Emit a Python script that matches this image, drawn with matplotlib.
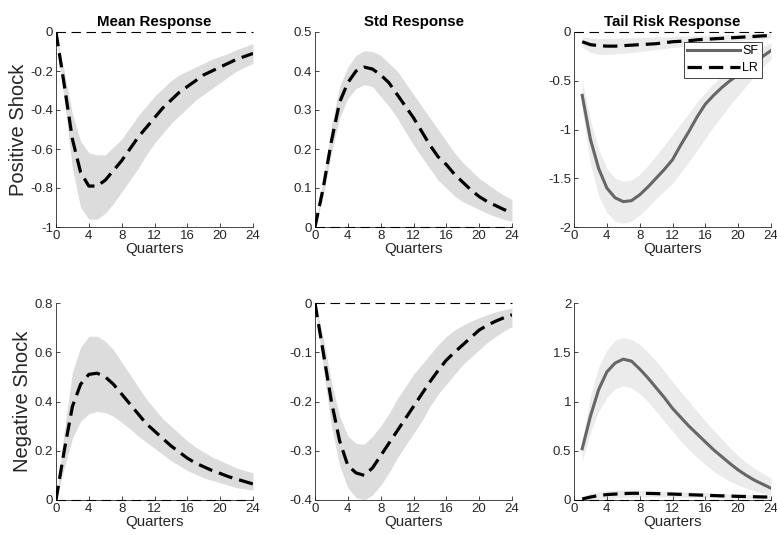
import numpy as np
import matplotlib
matplotlib.use("Agg")
import matplotlib.pyplot as plt

plt.rcParams['font.family'] = ['Liberation Sans', 'DejaVu Sans']

q0 = list(range(0, 25))
q1 = list(range(1, 25))

# Positive shock, mean response
pos_mean = [0, -0.27, -0.55, -0.72, -0.79, -0.79, -0.76, -0.71, -0.66, -0.6, -0.54, -0.49, -0.44,
            -0.39, -0.35, -0.31, -0.28, -0.25, -0.22, -0.2, -0.18, -0.16, -0.14, -0.125, -0.11]
pos_mean_hi = [0, -0.2, -0.42, -0.56, -0.62, -0.63, -0.63, -0.59, -0.55, -0.49, -0.43, -0.38, -0.33,
               -0.29, -0.25, -0.22, -0.2, -0.18, -0.16, -0.14, -0.125, -0.11, -0.09, -0.075, -0.06]
pos_mean_lo = [0, -0.35, -0.7, -0.9, -0.96, -0.96, -0.93, -0.88, -0.82, -0.76, -0.7, -0.63, -0.57,
               -0.52, -0.47, -0.43, -0.39, -0.35, -0.32, -0.29, -0.26, -0.23, -0.2, -0.18, -0.16]

# Positive shock, std response
pos_std = [0, 0.1, 0.22, 0.32, 0.37, 0.40, 0.41, 0.405, 0.39, 0.37, 0.34, 0.31, 0.28,
           0.245, 0.21, 0.18, 0.16, 0.135, 0.115, 0.095, 0.078, 0.065, 0.055, 0.045, 0.036]
pos_std_hi = [0, 0.12, 0.26, 0.36, 0.41, 0.44, 0.452, 0.45, 0.44, 0.42, 0.40, 0.37, 0.34,
              0.31, 0.28, 0.25, 0.22, 0.19, 0.165, 0.145, 0.125, 0.11, 0.095, 0.082, 0.07]
pos_std_lo = [0, 0.08, 0.19, 0.28, 0.33, 0.355, 0.365, 0.36, 0.335, 0.31, 0.28, 0.245, 0.21,
              0.18, 0.15, 0.12, 0.1, 0.08, 0.065, 0.055, 0.045, 0.035, 0.027, 0.02, 0.015]

# Positive shock, tail risk (SF and LR), quarters 1..24
pos_sf = [-0.65, -1.1, -1.4, -1.6, -1.7, -1.74, -1.73, -1.67, -1.59, -1.5, -1.41, -1.31,
          -1.16, -1.02, -0.87, -0.74, -0.65, -0.57, -0.5, -0.44, -0.37, -0.31, -0.25, -0.19]
pos_sf_hi = [-0.5, -0.9, -1.2, -1.4, -1.5, -1.53, -1.52, -1.46, -1.37, -1.27, -1.16, -1.05,
             -0.94, -0.83, -0.72, -0.62, -0.53, -0.45, -0.38, -0.3, -0.25, -0.2, -0.15, -0.11]
pos_sf_lo = [-0.8, -1.35, -1.68, -1.85, -1.94, -1.96, -1.94, -1.88, -1.8, -1.71, -1.63, -1.55,
             -1.44, -1.33, -1.21, -1.09, -0.97, -0.86, -0.75, -0.65, -0.55, -0.45, -0.36, -0.28]
pos_lr = [-0.1, -0.13, -0.14, -0.145, -0.145, -0.14, -0.135, -0.13, -0.125, -0.12, -0.11, -0.1,
          -0.095, -0.09, -0.08, -0.075, -0.07, -0.065, -0.06, -0.055, -0.05, -0.045, -0.04, -0.035]
pos_lr_hi = [-0.05, -0.06, -0.065, -0.065, -0.065, -0.06, -0.06, -0.055, -0.055, -0.05, -0.05, -0.045,
             -0.04, -0.04, -0.035, -0.035, -0.03, -0.03, -0.025, -0.025, -0.02, -0.02, -0.015, -0.015]
pos_lr_lo = [-0.15, -0.21, -0.23, -0.23, -0.225, -0.22, -0.21, -0.2, -0.19, -0.18, -0.17, -0.16,
             -0.15, -0.14, -0.13, -0.12, -0.11, -0.1, -0.095, -0.09, -0.08, -0.075, -0.07, -0.065]

# Negative shock, mean response
neg_mean = [0, 0.2, 0.38, 0.47, 0.51, 0.515, 0.5, 0.47, 0.43, 0.39, 0.35, 0.31, 0.28,
            0.25, 0.22, 0.195, 0.17, 0.15, 0.135, 0.12, 0.108, 0.095, 0.085, 0.075, 0.065]
neg_mean_hi = [0, 0.28, 0.52, 0.62, 0.665, 0.665, 0.645, 0.61, 0.56, 0.51, 0.46, 0.41, 0.37,
               0.33, 0.3, 0.27, 0.24, 0.215, 0.195, 0.175, 0.16, 0.145, 0.13, 0.12, 0.11]
neg_mean_lo = [0, 0.13, 0.25, 0.32, 0.35, 0.36, 0.355, 0.34, 0.315, 0.29, 0.26, 0.235, 0.21,
               0.185, 0.16, 0.14, 0.12, 0.105, 0.09, 0.08, 0.07, 0.06, 0.05, 0.045, 0.04]

# Negative shock, std response
neg_std = [0, -0.1, -0.2, -0.28, -0.33, -0.345, -0.35, -0.335, -0.31, -0.285, -0.26, -0.235, -0.21,
           -0.185, -0.16, -0.137, -0.116, -0.1, -0.085, -0.07, -0.055, -0.045, -0.037, -0.03, -0.024]
neg_std_hi = [0, -0.07, -0.16, -0.23, -0.27, -0.285, -0.287, -0.27, -0.25, -0.225, -0.195, -0.17, -0.145,
              -0.125, -0.105, -0.085, -0.068, -0.055, -0.045, -0.037, -0.03, -0.024, -0.018, -0.014, -0.01]
neg_std_lo = [0, -0.13, -0.25, -0.33, -0.375, -0.395, -0.4, -0.39, -0.37, -0.345, -0.315, -0.29, -0.265,
              -0.24, -0.21, -0.185, -0.165, -0.145, -0.125, -0.11, -0.095, -0.08, -0.068, -0.057, -0.048]

# Negative shock, tail risk
neg_sf = [0.52, 0.85, 1.12, 1.3, 1.39, 1.43, 1.41, 1.33, 1.24, 1.14, 1.04, 0.93,
          0.84, 0.75, 0.67, 0.59, 0.51, 0.44, 0.37, 0.305, 0.25, 0.2, 0.16, 0.12]
neg_sf_hi = [0.6, 1.05, 1.35, 1.52, 1.62, 1.65, 1.63, 1.58, 1.5, 1.41, 1.31, 1.2,
             1.1, 1.0, 0.9, 0.8, 0.71, 0.62, 0.53, 0.45, 0.38, 0.32, 0.27, 0.22]
neg_sf_lo = [0.4, 0.68, 0.9, 1.04, 1.13, 1.16, 1.14, 1.08, 1.0, 0.9, 0.8, 0.7,
             0.6, 0.51, 0.43, 0.36, 0.29, 0.24, 0.19, 0.15, 0.12, 0.09, 0.07, 0.05]
neg_lr = [0.01, 0.03, 0.045, 0.055, 0.06, 0.065, 0.068, 0.068, 0.067, 0.065, 0.062, 0.06,
          0.057, 0.054, 0.051, 0.048, 0.045, 0.042, 0.04, 0.037, 0.035, 0.033, 0.031, 0.03]
neg_lr_hi = [0.04, 0.07, 0.085, 0.095, 0.1, 0.1, 0.1, 0.098, 0.096, 0.093, 0.09, 0.087,
             0.083, 0.08, 0.077, 0.073, 0.07, 0.067, 0.064, 0.061, 0.058, 0.055, 0.052, 0.05]
neg_lr_lo = [0.0, 0.005, 0.01, 0.015, 0.02, 0.025, 0.028, 0.03, 0.03, 0.03, 0.03, 0.029,
             0.028, 0.027, 0.025, 0.024, 0.022, 0.02, 0.019, 0.017, 0.016, 0.014, 0.012, 0.01]

titles = ["Mean Response", "Std Response", "Tail Risk Response"]
row_labels = ["Positive Shock", "Negative Shock"]
xticks = [0, 4, 8, 12, 16, 20, 24]

BAND = '#dcdcdc'
BAND_T = '#ebebeb'
SFC = '#666666'
AXC = '#262626'

fig = plt.figure(figsize=(7.77, 5.35), dpi=100)
W, H = 777, 535
lefts = [56, 315, 574]
tops = [32, 303]
bots = [227, 500]
axw = 197
axes = []
for r in range(2):
    row = []
    for c in range(3):
        ax = fig.add_axes([lefts[c] / W, 1 - bots[r] / H, axw / W, (bots[r] - tops[r]) / H])
        row.append(ax)
    axes.append(row)

def style(ax, ylim, yticks, yticklabels):
    ax.set_xlim(0, 24)
    ax.set_ylim(*ylim)
    ax.set_xticks(xticks)
    ax.set_yticks(yticks)
    ax.set_yticklabels(yticklabels)
    for s in ['top', 'right']:
        ax.spines[s].set_visible(False)
    for s in ['left', 'bottom']:
        ax.spines[s].set_color(AXC)
        ax.spines[s].set_linewidth(0.6)
    ax.tick_params(direction='in', length=3, width=0.6, colors=AXC, labelsize=9.5, pad=2)
    ax.set_xlabel("Quarters", fontsize=10.8, color=AXC, labelpad=0)

def zero(ax):
    ax.plot([0, 24], [0, 0], color='black', lw=0.8, ls=(0, (8.5, 5)), zorder=4, clip_on=False)

DASH = (0, (4.5, 2.2))

def meanpanel(ax, m, hi, lo):
    ax.fill_between(q0, lo, hi, color=BAND, lw=0, zorder=1)
    zero(ax)
    ax.plot(q0, m, color='black', lw=2.3, ls=DASH, zorder=5)

meanpanel(axes[0][0], pos_mean, pos_mean_hi, pos_mean_lo)
style(axes[0][0], (-1, 0), [-1, -0.8, -0.6, -0.4, -0.2, 0], ['-1', '-0.8', '-0.6', '-0.4', '-0.2', '0'])
meanpanel(axes[0][1], pos_std, pos_std_hi, pos_std_lo)
style(axes[0][1], (0, 0.5), [0, 0.1, 0.2, 0.3, 0.4, 0.5], ['0', '0.1', '0.2', '0.3', '0.4', '0.5'])
meanpanel(axes[1][0], neg_mean, neg_mean_hi, neg_mean_lo)
style(axes[1][0], (0, 0.8), [0, 0.2, 0.4, 0.6, 0.8], ['0', '0.2', '0.4', '0.6', '0.8'])
meanpanel(axes[1][1], neg_std, neg_std_hi, neg_std_lo)
style(axes[1][1], (-0.4, 0), [-0.4, -0.3, -0.2, -0.1, 0], ['-0.4', '-0.3', '-0.2', '-0.1', '0'])

def tailpanel(ax, sf, sfh, sfl, lr, lrh, lrl):
    ax.fill_between(q1, sfl, sfh, color=BAND_T, lw=0, zorder=1)
    ax.fill_between(q1, lrl, lrh, color=BAND_T, lw=0, zorder=1)
    zero(ax)
    l1, = ax.plot(q1, sf, color=SFC, lw=2.2, zorder=5, label='SF')
    l2, = ax.plot(q1, lr, color='black', lw=2.3, ls=DASH, zorder=5, label='LR')
    return l1, l2

tailpanel(axes[0][2], pos_sf, pos_sf_hi, pos_sf_lo, pos_lr, pos_lr_hi, pos_lr_lo)
style(axes[0][2], (-2, 0), [-2, -1.5, -1, -0.5, 0], ['-2', '-1.5', '-1', '-0.5', '0'])
leg = axes[0][2].legend(loc='upper right', bbox_to_anchor=(0.955, 0.95), borderaxespad=0,
                        fontsize=9, handlelength=4.2, handletextpad=0.2, labelspacing=0.35,
                        borderpad=0.3, fancybox=False, framealpha=1)
leg.get_frame().set_edgecolor(AXC)
leg.get_frame().set_linewidth(0.6)
leg.set_zorder(10)
tailpanel(axes[1][2], neg_sf, neg_sf_hi, neg_sf_lo, neg_lr, neg_lr_hi, neg_lr_lo)
style(axes[1][2], (0, 2), [0, 0.5, 1, 1.5, 2], ['0', '0.5', '1', '1.5', '2'])

for c in range(3):
    axes[0][c].set_title(titles[c], fontsize=10.8, fontweight='bold', pad=4)
for r in range(2):
    axes[r][0].set_ylabel(row_labels[r], fontsize=14.5, color=AXC, labelpad=2)

fig.savefig("out.png", dpi=100)
